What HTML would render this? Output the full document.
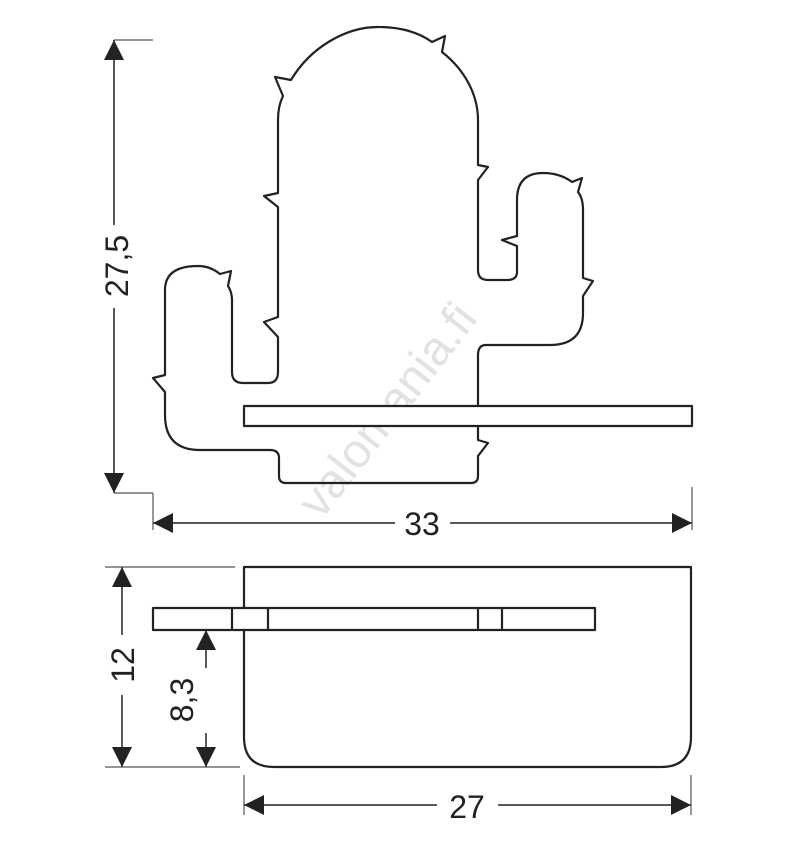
<!DOCTYPE html>
<html><head><meta charset="utf-8"><style>
html,body{margin:0;padding:0;background:#fff;}
svg{display:block;}
text{font-family:"Liberation Sans",Arial,sans-serif;fill:#222;}
</style></head><body>
<svg width="794" height="850" viewBox="0 0 794 850" xmlns="http://www.w3.org/2000/svg">
<defs>
<marker id="a" viewBox="0 0 10 10" refX="10" refY="5" markerWidth="20" markerHeight="20" markerUnits="userSpaceOnUse" orient="auto-start-reverse"><path d="M0,0 L10,5 L0,10 Z" fill="#222"/></marker>
</defs>
<text x="0" y="0" transform="translate(400,420) rotate(-52)" font-size="48" text-anchor="middle" style="fill:#e2e2e2">valomania.fi</text>

<g fill="none" stroke="#222" stroke-width="2.2" stroke-linejoin="round">
<path d="M291,80 C310,48 345,27 378,27 C400,27 418,32 432,42 L445,36 L442,52 C465,70 478,95 478,120
 L478,165 L488,167 L478,180 L478,270 Q478,280 488,280 L507,280 Q517,280 517,272 L517,246 L502,240 L517,236 L517,200 Q517,173 543,173 Q560,173 572,182 L582,178 L578,192 Q583,198 583,210 L583,278 L593,281 L583,296 L583,313 Q583,345 550,345 L486,345 Q478,345 478,355 L478,440 L488,443 L478,456 L478,476 Q478,483 471,483 L286,483 Q279,483 279,476 L279,458 Q279,450 270,450 L200,450 Q165,450 165,415 L165,392 L153,378 L165,375 L165,290 Q165,266 198,266 Q210,266 220,274 L231,271 L228,286 Q232,292 232,300 L232,372 Q232,383 243,383 L268,383 Q278,383 278,372 L278,337 L264,322 L278,317 L278,207 L264,196 L278,193 L278,120 Q278,106 283,96 L275,77 Z"/>
<rect x="244" y="406" width="448" height="20" fill="#fff"/>
<path d="M244,567 L691,567 L691,737 Q691,767 661,767 L274,767 Q244,767 244,737 Z"/>
<rect x="153" y="608" width="442" height="22" fill="#fff"/>
<line x1="232" y1="608" x2="232" y2="630"/>
<line x1="268" y1="608" x2="268" y2="630"/>
<line x1="478" y1="608" x2="478" y2="630"/>
<line x1="502" y1="608" x2="502" y2="630"/>
</g>

<g stroke="#555" stroke-width="1.2" fill="none">
<line x1="114" y1="40" x2="153" y2="40"/>
<line x1="114" y1="493" x2="153" y2="493"/>
<line x1="153" y1="493" x2="153" y2="530"/>
<line x1="692" y1="487" x2="692" y2="530"/>
<line x1="105" y1="567" x2="235" y2="567"/>
<line x1="105" y1="767" x2="240" y2="767"/>
<line x1="244" y1="775" x2="244" y2="815"/>
<line x1="691" y1="775" x2="691" y2="815"/>
</g>
<g stroke="#222" stroke-width="1.5" fill="none">
<line x1="114" y1="40" x2="114" y2="225" marker-start="url(#a)"/>
<line x1="114" y1="308" x2="114" y2="493" marker-end="url(#a)"/>
<line x1="153" y1="523" x2="395" y2="523" marker-start="url(#a)"/>
<line x1="450" y1="523" x2="692" y2="523" marker-end="url(#a)"/>
<line x1="122" y1="567" x2="122" y2="635" marker-start="url(#a)"/>
<line x1="122" y1="695" x2="122" y2="767" marker-end="url(#a)"/>
<line x1="206" y1="630" x2="206" y2="668" marker-start="url(#a)"/>
<line x1="206" y1="733" x2="206" y2="767" marker-end="url(#a)"/>
<line x1="244" y1="805" x2="437" y2="805" marker-start="url(#a)"/>
<line x1="498" y1="805" x2="691" y2="805" marker-end="url(#a)"/>
</g>
<text x="0" y="0" transform="translate(128,266) rotate(-90)" font-size="32" text-anchor="middle">27,5</text>
<text x="422" y="535" font-size="32" text-anchor="middle">33</text>
<text x="0" y="0" transform="translate(134,665) rotate(-90)" font-size="32" text-anchor="middle">12</text>
<text x="0" y="0" transform="translate(193,700) rotate(-90)" font-size="32" text-anchor="middle">8,3</text>
<text x="467" y="818" font-size="32" text-anchor="middle">27</text>
</svg>
</body></html>
